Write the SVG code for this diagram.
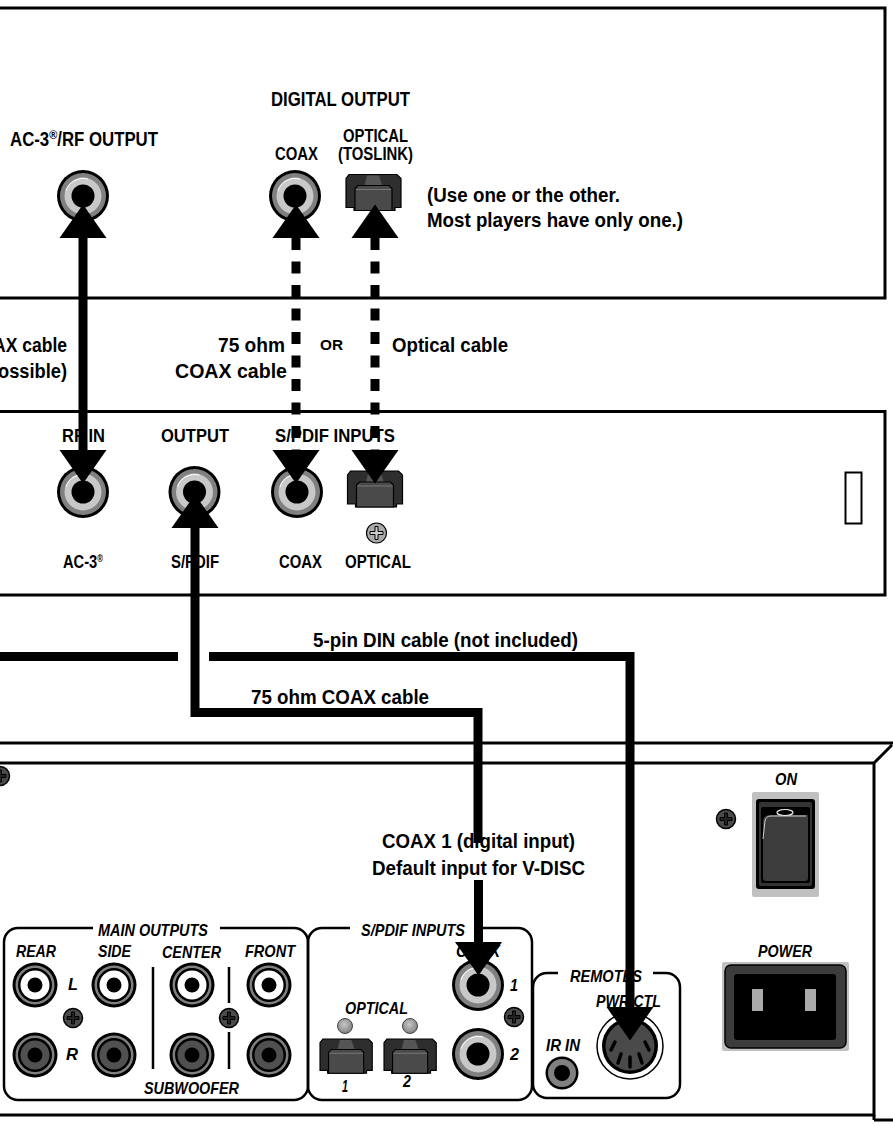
<svg xmlns="http://www.w3.org/2000/svg" xmlns:xlink="http://www.w3.org/1999/xlink" width="893" height="1127" viewBox="0 0 893 1127">
<style>
text{font-family:"Liberation Sans",Arial,sans-serif;font-weight:700;fill:#000}
.l{font-size:20px}.s{font-size:18px}.c{font-size:19px}.i{font-size:17px;font-style:italic}
.box{fill:none;stroke:#000;stroke-width:3}
.pan{fill:none;stroke:#000;stroke-width:2.5}
.wire{fill:none;stroke:#000;stroke-width:9}
.arrow{marker-end:url(#ah)}
.dash{stroke-dasharray:12 11.5}
</style>
<defs>
<marker id="ah" markerUnits="userSpaceOnUse" markerWidth="35" markerHeight="48" refX="0" refY="24" orient="auto-start-reverse" overflow="visible"><path d="M0,0.5L33.500,24L0,47.5Z" fill="#000"/></marker>
<g id="bigjack"><circle r="26" fill="#000"/><circle r="23" fill="#808080"/><circle r="18.5" fill="#c8c8c8"/><path d="M-17,-5A18,18 0 0 1 5,-17" fill="none" stroke="#fff" stroke-width="1"/><circle r="11.5" fill="#000"/></g>
<g id="rcaw"><circle r="22.5" fill="#000"/><circle r="19.5" fill="#808080"/><circle r="17" fill="#000"/><circle r="14.5" fill="#fff"/><circle r="7.5" fill="#000"/></g>
<g id="rcad"><circle r="22.5" fill="#000"/><circle r="19.5" fill="#808080"/><circle r="17" fill="#000"/><circle r="14.5" fill="#505050"/><circle r="7.5" fill="#000"/></g>
<g id="opt"><path d="M3,0H51L55,4V33H49V36H8V33H0V4Z" fill="#2e2e2e" stroke="#000" stroke-width="1.2"/><path d="M21,1H33L37,13H18Z" fill="#555"/><path d="M9,14L12,11H43L46,14V36H9Z" fill="#4a4a4a" stroke="#000" stroke-width="1.2"/><path d="M10,15H45" stroke="#777" fill="none"/></g>
<g id="screw"><circle r="9.5" fill="#4a4a4a" stroke="#000" stroke-width="1.5"/><path d="M-1.5,-6H1.5V-1.5H6V1.5H1.5V6H-1.5V1.5H-6V-1.5H-1.5Z" fill="#222" stroke="#000"/></g>
<g id="screwl"><circle r="10" fill="#aaa" stroke="#000" stroke-width="1.2"/><path d="M-1.5,-6.5H1.5V-1.5H6.5V1.5H1.5V6.5H-1.5V1.5H-6.5V-1.5H-1.5Z" fill="#ccc" stroke="#000"/></g>
<radialGradient id="led" cx="0.45" cy="0.4" r="0.6"><stop offset="0" stop-color="#c8c8c8"/><stop offset="1" stop-color="#808080"/></radialGradient>
</defs>
<rect width="893" height="1127" fill="#fff"/>

<g id="source-player">
<path class="box" d="M-3,8H885V298H-3"/>
<text class="l" x="10" y="146" textLength="148" lengthAdjust="spacingAndGlyphs">AC-3<tspan font-size="13" dy="-7">®</tspan><tspan dy="7">/RF OUTPUT</tspan></text>
<text class="l" x="271" y="106" textLength="139" lengthAdjust="spacingAndGlyphs">DIGITAL OUTPUT</text>
<text class="s" x="275" y="160" textLength="43" lengthAdjust="spacingAndGlyphs">COAX</text>
<text class="s" x="343" y="142" textLength="65" lengthAdjust="spacingAndGlyphs">OPTICAL</text>
<text class="s" x="338" y="160" textLength="75" lengthAdjust="spacingAndGlyphs">(TOSLINK)</text>
<text class="l" x="427" y="202" textLength="193" lengthAdjust="spacingAndGlyphs">(Use one or the other.</text>
<text class="l" x="427" y="227" textLength="256" lengthAdjust="spacingAndGlyphs">Most players have only one.)</text>
<use href="#bigjack" x="83" y="196"/>
<use href="#bigjack" x="295" y="196"/>
<use href="#opt" x="346" y="174.500"/>
</g>

<g id="cable-labels">
<text class="l" x="-7" y="352" textLength="74" lengthAdjust="spacingAndGlyphs">AX cable</text>
<text class="l" x="-2" y="378" textLength="69" lengthAdjust="spacingAndGlyphs">ossible)</text>
<text class="l" x="218" y="352" textLength="67" lengthAdjust="spacingAndGlyphs">75 ohm</text>
<text class="l" x="175" y="378" textLength="112" lengthAdjust="spacingAndGlyphs">COAX cable</text>
<text x="320" y="350" font-size="14" textLength="23" lengthAdjust="spacingAndGlyphs">OR</text>
<text class="l" x="392" y="352" textLength="116" lengthAdjust="spacingAndGlyphs">Optical cable</text>
<text class="l" x="313" y="647" textLength="265" lengthAdjust="spacingAndGlyphs">5-pin DIN cable (not included)</text>
<text class="l" x="251" y="704" textLength="178" lengthAdjust="spacingAndGlyphs">75 ohm COAX cable</text>
<text class="l" x="382" y="848" textLength="193" lengthAdjust="spacingAndGlyphs">COAX 1 (digital input)</text>
<text class="l" x="372" y="875" textLength="213" lengthAdjust="spacingAndGlyphs">Default input for V-DISC</text>
</g>

<g id="converter">
<path class="box" d="M-3,411.500H885V595H-3"/>
<rect x="845.500" y="472.500" width="16" height="51" fill="#fff" stroke="#000" stroke-width="2"/>
<text class="c" x="62" y="442" textLength="43" lengthAdjust="spacingAndGlyphs">RF IN</text>
<text class="c" x="161" y="442" textLength="68" lengthAdjust="spacingAndGlyphs">OUTPUT</text>
<text class="c" x="275" y="442" textLength="120" lengthAdjust="spacingAndGlyphs">S/PDIF INPUTS</text>
<text class="c" x="63" y="568" textLength="40" lengthAdjust="spacingAndGlyphs">AC-3<tspan font-size="10" dy="-6">®</tspan></text>
<text class="c" x="171" y="568" textLength="48" lengthAdjust="spacingAndGlyphs">S/PDIF</text>
<text class="c" x="279" y="568" textLength="43" lengthAdjust="spacingAndGlyphs">COAX</text>
<text class="c" x="345" y="568" textLength="66" lengthAdjust="spacingAndGlyphs">OPTICAL</text>
<use href="#bigjack" x="83" y="492"/>
<use href="#bigjack" x="194.500" y="492"/>
<use href="#bigjack" x="297" y="492"/>
<use href="#opt" x="347.500" y="471"/>
<use href="#screwl" x="376.500" y="533"/>
</g>

<g id="decoder">
<path class="box" d="M-3,743H893M-3,763H874V1115H-3M874,763L892,745M874,1120H893"/>
<path class="box" d="M874,1115V1120"/>
<use href="#screw" x="0" y="776"/>
<g id="main-outputs">
<path class="pan" d="M93,928H18A14,14 0 0 0 4,942V1086A14,14 0 0 0 18,1100H294A14,14 0 0 0 308,1086V942A14,14 0 0 0 294,928H220"/>
<path class="pan" d="M153,967V1069M229,967V1003M229,1032V1069"/>
<text class="i" x="98" y="936" textLength="110" lengthAdjust="spacingAndGlyphs">MAIN OUTPUTS</text>
<text class="i" x="16" y="957" textLength="40" lengthAdjust="spacingAndGlyphs">REAR</text>
<text class="i" x="98" y="957" textLength="33" lengthAdjust="spacingAndGlyphs">SIDE</text>
<text class="i" x="162" y="958" textLength="59" lengthAdjust="spacingAndGlyphs">CENTER</text>
<text class="i" x="245" y="957" textLength="50" lengthAdjust="spacingAndGlyphs">FRONT</text>
<text class="i" x="68" y="990" textLength="10" lengthAdjust="spacingAndGlyphs">L</text>
<text class="i" x="66" y="1060" textLength="12" lengthAdjust="spacingAndGlyphs">R</text>
<text class="i" x="144" y="1094" textLength="95" lengthAdjust="spacingAndGlyphs">SUBWOOFER</text>
<use href="#rcaw" x="35" y="985"/><use href="#rcaw" x="114" y="985"/><use href="#rcaw" x="192" y="985"/><use href="#rcaw" x="269" y="985"/>
<use href="#rcad" x="35" y="1055"/><use href="#rcad" x="114" y="1055"/><use href="#rcad" x="192" y="1055"/><use href="#rcad" x="269" y="1055"/>
<use href="#screw" x="73" y="1018"/><use href="#screw" x="229" y="1018"/>
</g>
<g id="spdif-inputs">
<path class="pan" d="M350,928H322A14,14 0 0 0 308,942V1086A14,14 0 0 0 322,1100H518A14,14 0 0 0 532,1086V942A14,14 0 0 0 518,928H483"/>
<text class="i" x="361" y="936" textLength="104" lengthAdjust="spacingAndGlyphs">S/PDIF INPUTS</text>
<text class="i" x="456" y="957" textLength="44" lengthAdjust="spacingAndGlyphs">COAX</text>
<text class="i" x="510" y="991" textLength="8" lengthAdjust="spacingAndGlyphs">1</text>
<text class="i" x="510" y="1060" textLength="9" lengthAdjust="spacingAndGlyphs">2</text>
<text class="i" x="345" y="1014" textLength="63" lengthAdjust="spacingAndGlyphs">OPTICAL</text>
<text class="i" x="342" y="1092" textLength="6" lengthAdjust="spacingAndGlyphs">1</text>
<text class="i" x="403" y="1087" textLength="8" lengthAdjust="spacingAndGlyphs">2</text>
<use href="#bigjack" x="478" y="985"/><use href="#bigjack" x="478" y="1054"/>
<use href="#screw" x="514" y="1017"/>
<circle cx="345" cy="1026" r="7.5" fill="url(#led)" stroke="#444"/><circle cx="410" cy="1026" r="7.5" fill="url(#led)" stroke="#444"/>
<use href="#opt" x="320" y="1039" transform="translate(320 1039) scale(.95) translate(-320 -1039)"/>
<use href="#opt" x="384" y="1039" transform="translate(384 1039) scale(.95) translate(-384 -1039)"/>
</g>
<g id="remotes">
<path class="pan" d="M558,973H547A14,14 0 0 0 533,987V1084A14,14 0 0 0 547,1098H666A14,14 0 0 0 680,1084V987A14,14 0 0 0 666,973H653"/>
<text class="i" x="570" y="982" textLength="72" lengthAdjust="spacingAndGlyphs">REMOTES</text>
<text class="i" x="596" y="1007" textLength="65" lengthAdjust="spacingAndGlyphs">PWR CTL</text>
<text class="i" x="546" y="1051" textLength="34" lengthAdjust="spacingAndGlyphs">IR IN</text>
<circle cx="562" cy="1073" r="16.500" fill="#000"/><circle cx="562" cy="1073" r="14" fill="#808080"/><circle cx="562" cy="1073" r="8" fill="#000"/>
<circle cx="630" cy="1046" r="33" fill="#fff" stroke="#000" stroke-width="1.500"/>
<circle cx="630" cy="1046" r="28" fill="#000"/><circle cx="630" cy="1046" r="24.500" fill="#4a4a4a"/>
<g stroke="#000" stroke-width="3.500" stroke-linecap="round"><path d="M611,1050L615,1042"/><path d="M618,1063L621,1054"/><path d="M630,1067V1057"/><path d="M642,1063L639,1054"/><path d="M649,1050L645,1042"/></g>
</g>
<g id="power-switch">
<text class="i" x="775" y="785" textLength="22" lengthAdjust="spacingAndGlyphs">ON</text>
<use href="#screw" x="726" y="819"/>
<rect x="752" y="792" width="67" height="105" rx="2" fill="#c0c0c0"/>
<rect x="756" y="799" width="59" height="90" rx="3" fill="#000"/>
<rect x="759" y="802" width="53" height="84" rx="2" fill="#333"/>
<rect x="761" y="807" width="49" height="76" rx="2" fill="#000"/>
<path d="M763,839V822Q763,815 770,815H808V878Q808,881 805,881H766Q763,881 763,878Z" fill="#3c3c3c"/>
<path d="M763,839L765,821Q766,816 771,816H806" fill="none" stroke="#ccc" stroke-width="1"/>
<ellipse cx="785" cy="812.500" rx="8" ry="3" fill="#000" stroke="#eee" stroke-width="1.200"/>
</g>
<g id="power-inlet">
<text class="i" x="758" y="957" textLength="54" lengthAdjust="spacingAndGlyphs">POWER</text>
<rect x="722" y="962" width="127" height="89" rx="2" fill="#c0c0c0"/>
<rect x="725" y="965" width="121" height="83" rx="6" fill="#3c3c3c" stroke="#000" stroke-width="1.500"/>
<rect x="734" y="974" width="102" height="66" rx="3" fill="#000"/>
<rect x="752" y="989" width="11" height="22" fill="#aaa"/><rect x="805" y="989" width="11" height="22" fill="#aaa"/>
</g>
</g>

<g id="connectors">
<path class="wire arrow" d="M83,238V450" style="marker-start:url(#ah)"/>
<path class="wire arrow dash" d="M296,238V450" style="marker-start:url(#ah)"/>
<path class="wire arrow dash" d="M375,238V450" style="marker-start:url(#ah)"/>
<path class="wire" d="M195,528V712.500H478V843" style="marker-start:url(#ah)"/>
<path class="wire arrow" d="M478.500,880V942"/>
<path class="wire" d="M-3,656.500H178"/>
<path class="wire arrow" d="M209,656.500H630V1007"/>
</g>
</svg>
